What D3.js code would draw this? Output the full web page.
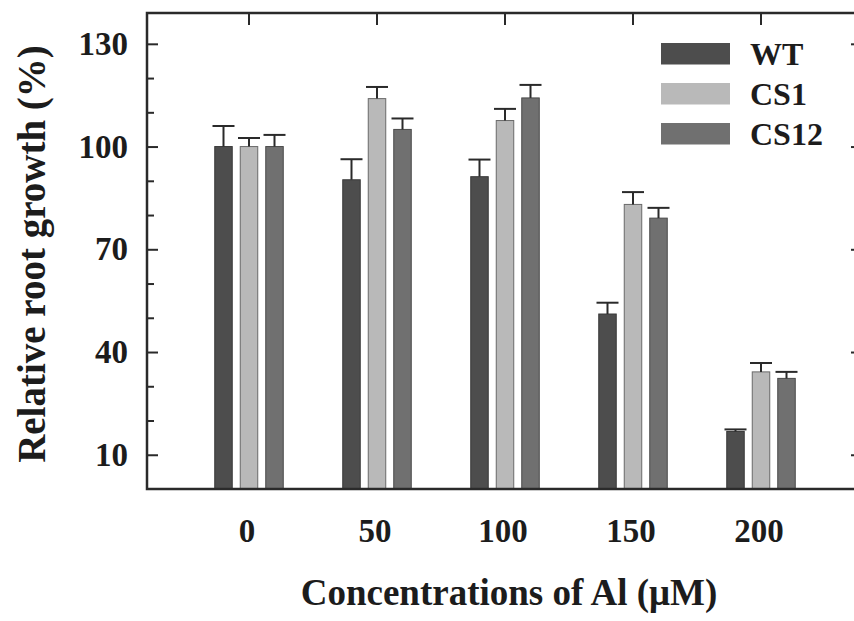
<!DOCTYPE html>
<html>
<head>
<meta charset="utf-8">
<script src="https://cdn.jsdelivr.net/npm/d3@7"></script>
<style>
  body { margin: 0; background: #fff; }
  text { font-family: "Liberation Serif", "Times New Roman", serif; font-weight: bold; fill: #1c1c1c; }
</style>
</head>
<body>
<div id="chart"></div>
<script>
// data
const concentrations = ['0', '50', '100', '150', '200'];
const seriesNames = ['WT', 'CS1', 'CS12'];
const wtValues   = [100, 90.3, 91.2, 51.1, 16.8];
const wtErrors   = [6.0, 6.0, 5.0, 3.3, 0.6];
const cs1Values  = [100, 114.0, 107.6, 83.1, 34.2];
const cs1Errors  = [2.5, 3.4, 3.4, 3.6, 2.6];
const cs12Values = [100, 105.0, 114.2, 79.1, 32.3];
const cs12Errors = [3.4, 3.2, 3.8, 3.0, 1.9];
const yTicks = [10, 40, 70, 100, 130];
const yMinorTicks = [20, 30, 50, 60, 80, 90, 110, 120];

const colors = { WT: '#4d4d4d', CS1: '#b9b9b9', CS12: '#707070' };
const outline = { WT: '#3a3a3a', CS1: '#6a6a6a', CS12: '#4a4a4a' };

const width = 854;
const height = 621;
const margin = { top: 13, right: -3, bottom: 132, left: 147 };

const svg = d3.select('#chart').append('svg')
    .attr('width', width)
    .attr('height', height);

const plotW = width - margin.left - margin.right;
const plotH = height - margin.top - margin.bottom;

const g = svg.append('g')
    .attr('transform', `translate(${margin.left},${margin.top})`);

// scales
const y = d3.scaleLinear().domain([0, 139]).range([plotH, 0]);
const x0 = d3.scaleBand().domain(concentrations).range([38, 678]);
const x1 = d3.scaleBand().domain(seriesNames).range([-34.25, 34.25]).paddingInner(0.314);

// build rows for the bars
const valuesBySeries = { WT: wtValues, CS1: cs1Values, CS12: cs12Values };
const errorsBySeries = { WT: wtErrors, CS1: cs1Errors, CS12: cs12Errors };
const rows = [];
concentrations.forEach((c, i) => {
    seriesNames.forEach(s => {
        rows.push({ conc: c, series: s, value: valuesBySeries[s][i], err: errorsBySeries[s][i] });
    });
});

const cx = d => x0(d.conc) + x0.bandwidth() / 2 + x1(d.series);

// bars
g.selectAll('.bar')
    .data(rows)
    .enter().append('rect')
    .attr('class', 'bar')
    .attr('x', d => cx(d))
    .attr('y', d => y(d.value))
    .attr('width', x1.bandwidth())
    .attr('height', d => y(0) - y(d.value))
    .attr('fill', d => colors[d.series])
    .attr('stroke', d => outline[d.series])
    .attr('stroke-width', 1);

// error bars (upper only)
const errG = g.selectAll('.err')
    .data(rows)
    .enter().append('g')
    .attr('class', 'err')
    .attr('stroke', '#2a2a2a')
    .attr('stroke-width', 2);
errG.append('line')
    .attr('x1', d => cx(d) + x1.bandwidth() / 2)
    .attr('x2', d => cx(d) + x1.bandwidth() / 2)
    .attr('y1', d => y(d.value))
    .attr('y2', d => y(d.value + d.err));
errG.append('line')
    .attr('x1', d => cx(d) + x1.bandwidth() / 2 - 11)
    .attr('x2', d => cx(d) + x1.bandwidth() / 2 + 11)
    .attr('y1', d => y(d.value + d.err))
    .attr('y2', d => y(d.value + d.err));

// frame
g.append('rect')
    .attr('x', 0).attr('y', 0)
    .attr('width', plotW).attr('height', plotH)
    .attr('fill', 'none')
    .attr('stroke', '#2a2a2a')
    .attr('stroke-width', 2.5);

// left axis, ticks pointing inward
const yAxis = d3.axisLeft(y).tickValues(yTicks).tickSize(-11).tickPadding(19).tickFormat(d3.format('d'));
const yAxisG = g.append('g').call(yAxis);
yAxisG.select('.domain').remove();
yAxisG.selectAll('line').attr('stroke', '#2a2a2a').attr('stroke-width', 2);
yAxisG.selectAll('text').style('font-size', '33px').attr('fill', '#1c1c1c');

const yMinor = d3.axisLeft(y).tickValues(yMinorTicks).tickSize(-7).tickFormat('');
const yMinorG = g.append('g').call(yMinor);
yMinorG.select('.domain').remove();
yMinorG.selectAll('line').attr('stroke', '#2a2a2a').attr('stroke-width', 2);

// right axis ticks
const yRight = d3.axisRight(y).tickValues(yTicks).tickSize(-6).tickFormat('');
const yRightG = g.append('g').attr('transform', `translate(${plotW},0)`).call(yRight);
yRightG.select('.domain').remove();
yRightG.selectAll('line').attr('stroke', '#2a2a2a').attr('stroke-width', 2);

// top ticks at each group
const xTop = d3.axisTop(x0).tickSize(-12).tickFormat('');
const xTopG = g.append('g').call(xTop);
xTopG.select('.domain').remove();
xTopG.selectAll('line').attr('stroke', '#2a2a2a').attr('stroke-width', 2);

// bottom labels, no ticks
const xAxis = d3.axisBottom(x0).tickSize(0).tickPadding(30);
const xAxisG = g.append('g').attr('transform', `translate(-2,${plotH})`).call(xAxis);
xAxisG.select('.domain').remove();
xAxisG.selectAll('text').style('font-size', '33px').attr('fill', '#1c1c1c');

// axis titles
svg.append('text')
    .attr('x', 509)
    .attr('y', 605)
    .attr('text-anchor', 'middle')
    .style('font-size', '37px')
    .text('Concentrations of Al (\u03bcM)');

svg.append('text')
    .attr('transform', 'translate(45,254) rotate(-90)')
    .attr('text-anchor', 'middle')
    .style('font-size', '39px')
    .text('Relative root growth (%)');

// legend
const legend = svg.append('g').attr('transform', 'translate(661,43)');
const item = legend.selectAll('.item')
    .data(seriesNames)
    .enter().append('g')
    .attr('transform', (d, i) => `translate(0,${i * 40})`);
item.append('rect')
    .attr('width', 69)
    .attr('height', 21.5)
    .attr('fill', d => colors[d]);
item.append('text')
    .attr('x', 89)
    .attr('y', 22)
    .style('font-size', '32px')
    .text(d => d);
</script>
</body>
</html>
